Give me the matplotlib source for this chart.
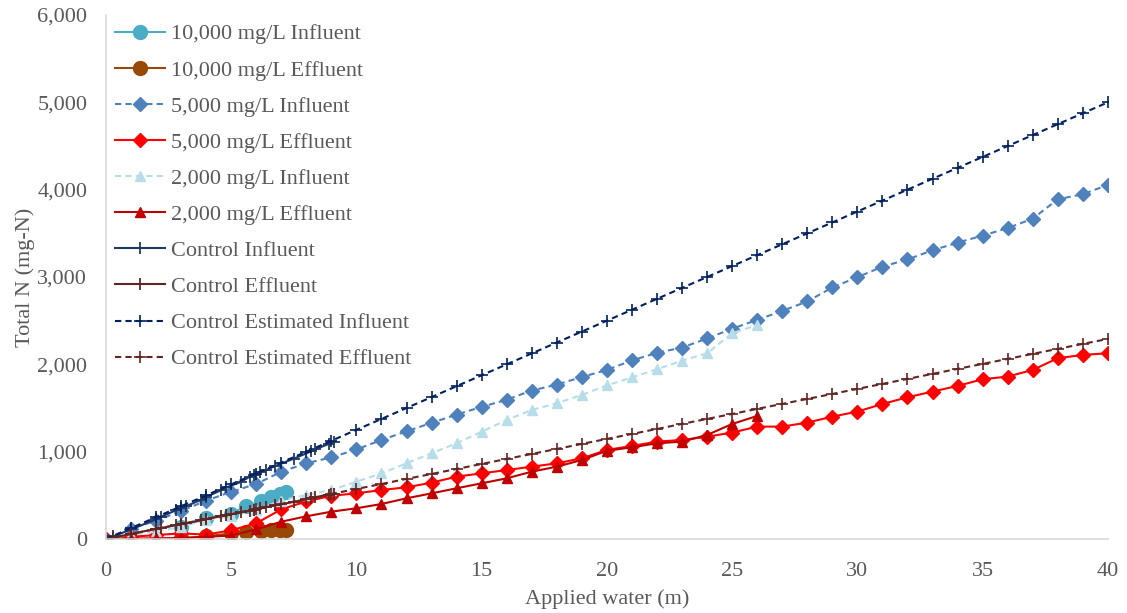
import numpy as np
import matplotlib.pyplot as plt
from matplotlib.ticker import FuncFormatter

plt.rcParams['font.family'] = ['Liberation Serif', 'DejaVu Serif']

# 10,000 mg/L 系列
x_10k = [3, 4, 5, 5.6, 6.2, 6.6, 6.95, 7.2]
inf_10k = [140, 237, 290, 380, 430, 480, 510, 535]
eff_10k = [8, 30, 65, 84, 95, 100, 100, 100]

# 5,000 mg/L 系列 (0-40 m)
x_5k = list(range(0, 41))
inf_5k = [0, 120, 210, 320, 440, 540, 630, 770, 867, 935, 1025, 1134, 1233, 1330, 1425,
          1513, 1595, 1700, 1768, 1855, 1936, 2045, 2132, 2192, 2296, 2408, 2509, 2612,
          2720, 2880, 2998, 3118, 3202, 3305, 3394, 3474, 3560, 3668, 3890, 3948, 4055]
eff_5k = [0, 25, 45, 65, 50, 100, 180, 340, 430, 495, 523, 561, 592, 645, 714, 752,
          790, 828, 867, 924, 1020, 1065, 1115, 1134, 1172, 1218, 1287, 1287, 1333, 1401,
          1459, 1546, 1623, 1688, 1753, 1829, 1860, 1936, 2070, 2108, 2127]

# 2,000 mg/L 系列 (0-26 m)
x_2k = list(range(0, 27))
inf_2k = [0, 46, 84, 141, 218, 260, 332, 440, 504, 561, 656, 752, 867, 982, 1096, 1229,
          1363, 1478, 1554, 1650, 1760, 1850, 1944, 2042, 2127, 2356, 2451]
eff_2k = [0, 5, 8, 12, 25, 40, 111, 198, 260, 313, 352, 401, 466, 523, 581, 638, 695,
          771, 828, 905, 1010, 1050, 1096, 1115, 1191, 1317, 1409]

# Control 実測
x_ctrl = [0, 0.3, 1.0, 2.0, 2.2, 2.8, 3.0, 3.2, 3.8, 4.0, 4.6, 4.8, 5.4, 5.75, 5.9,
          6.15, 6.4, 6.75, 7.5, 8.2, 8.35, 8.9, 9.1]
inf_ctrl = [0, 30, 110, 225, 255, 330, 350, 375, 450, 480, 560, 590, 655, 715, 735,
            765, 790, 835, 920, 1005, 1025, 1090, 1115]
eff_ctrl = [0, 15, 60, 115, 125, 160, 170, 180, 215, 230, 260, 270, 305, 325, 335,
            350, 365, 385, 425, 470, 480, 505, 520]

# Control 推定 (0-40 m)
x_est = list(range(0, 41))
inf_est = [0, 125, 250, 375, 500, 625, 750, 875, 1000, 1125, 1250, 1375, 1500, 1625,
           1750, 1875, 2000, 2125, 2250, 2375, 2500, 2625, 2750, 2875, 3000, 3125, 3250,
           3375, 3500, 3625, 3750, 3875, 4000, 4125, 4250, 4375, 4500, 4625, 4750, 4875, 5000]
eff_est = [0, 57, 115, 172, 229, 286, 344, 401, 458, 516, 573, 630, 688, 745, 802, 859,
           917, 974, 1031, 1089, 1146, 1203, 1260, 1318, 1375, 1432, 1490, 1547, 1604,
           1661, 1719, 1776, 1833, 1891, 1948, 2005, 2062, 2120, 2177, 2234, 2291]

fig = plt.figure(figsize=(11.27, 6.13), dpi=100)
ax = fig.add_axes([0.094, 0.1207, 0.889, 0.8548])

ax.plot(x_10k, inf_10k, color='#4BACC6', marker='o', ms=10, lw=1.5, label='10,000 mg/L Influent')
ax.plot(x_10k, eff_10k, color='#984807', marker='o', ms=10, lw=1.5, label='10,000 mg/L Effluent')
ax.plot(x_5k, inf_5k, color='#4F81BD', marker='D', ms=7.5, lw=1.5, ls=(0, (3, 2)), label='5,000 mg/L Influent')
ax.plot(x_5k, eff_5k, color='#FF0000', marker='D', ms=7.5, lw=1.5, label='5,000 mg/L Effluent')
ax.plot(x_2k, inf_2k, color='#B7DEE8', marker='^', ms=7.5, lw=1.5, ls=(0, (3, 2)), label='2,000 mg/L Influent')
ax.plot(x_2k, eff_2k, color='#C00000', marker='^', ms=7.5, lw=1.5, label='2,000 mg/L Effluent')
ax.plot(x_ctrl, inf_ctrl, color='#1F3864', marker='+', ms=9, mew=1.3, lw=1.5, label='Control Influent')
ax.plot(x_ctrl, eff_ctrl, color='#632523', marker='+', ms=9, mew=1.3, lw=1.5, label='Control Effluent')
ax.plot(x_est, inf_est, color='#002060', marker='+', ms=8, mew=1.2, lw=1.5, ls=(0, (3, 2)), label='Control Estimated Influent')
ax.plot(x_est, eff_est, color='#632523', marker='+', ms=8, mew=1.2, lw=1.5, ls=(0, (3, 2)), label='Control Estimated Effluent')

ax.set_xlim(0, 40)
ax.set_ylim(0, 6000)
ax.set_xticks(range(0, 41, 5))
ax.set_yticks(range(0, 6001, 1000))
ax.yaxis.set_major_formatter(FuncFormatter(lambda v, p: f'{int(v):,}'))
ax.tick_params(length=0, labelsize=16, colors='#595959')
ax.tick_params(axis='y', pad=13.5)
ax.tick_params(axis='x', pad=16.5)

for s in ['top', 'right']:
    ax.spines[s].set_visible(False)
for s in ['left', 'bottom']:
    ax.spines[s].set_color('#D9D9D9')
    ax.spines[s].set_linewidth(1.2)

ax.set_xlabel('Applied water (m)', fontsize=16, color='#595959', labelpad=6)
ax.set_ylabel('Total N (mg-N)', fontsize=16, color='#595959', labelpad=1.5)

leg = ax.legend(loc='upper left', bbox_to_anchor=(0.0, 1.0), frameon=False, fontsize=16,
                handlelength=2.25, handletextpad=0.3, labelspacing=0.70, borderaxespad=0.0)
for t in leg.get_texts():
    t.set_color('#595959')

plt.savefig('out.png', dpi=100)
